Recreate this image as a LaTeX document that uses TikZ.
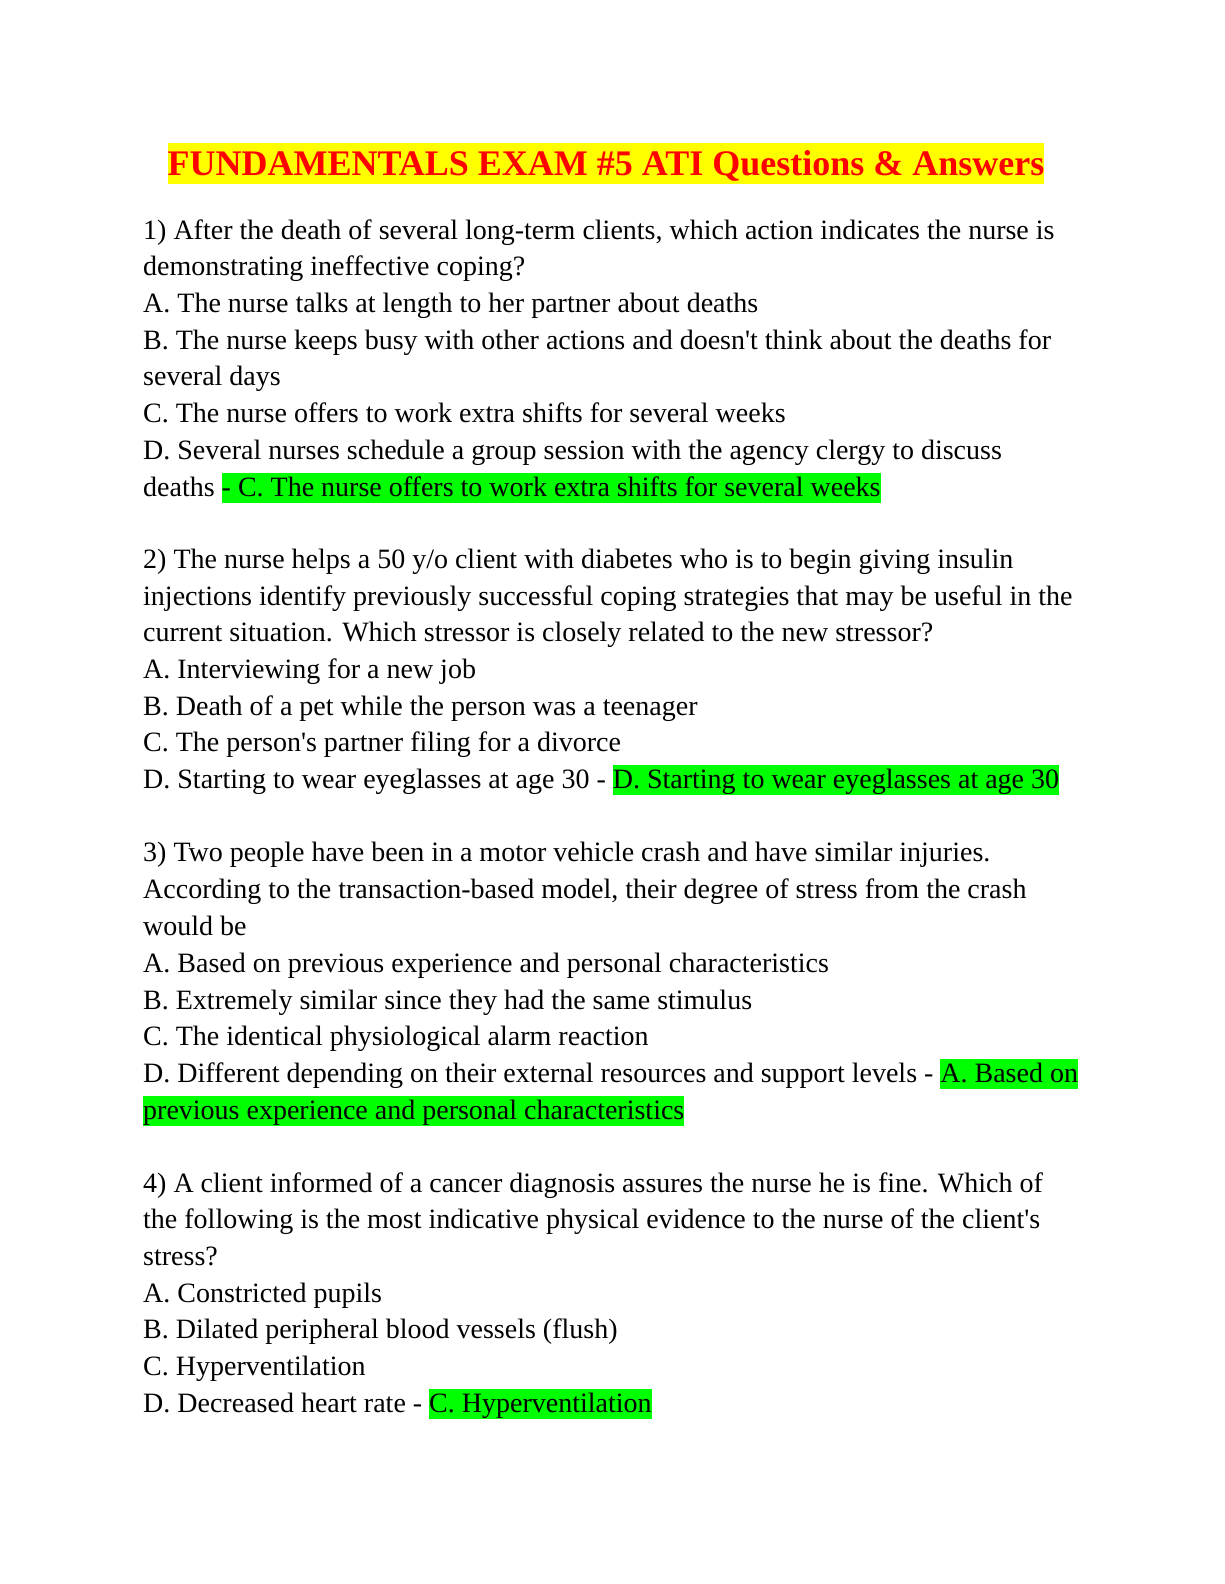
\documentclass[tikz,border=0pt]{standalone}
\usepackage{fontspec}
\setmainfont{Liberation Serif}
\definecolor{hlg}{RGB}{0,255,0}
\definecolor{hly}{RGB}{255,255,0}
\definecolor{ttl}{RGB}{255,0,0}
\newcommand{\hlg}[1]{{\setlength\fboxsep{0pt}\colorbox{hlg}{\rule[-7pt]{0pt}{30pt}#1}}}
\begin{document}
\begin{tikzpicture}[x=1pt,y=-1pt,
  ln/.style={anchor=base west,inner sep=0pt,font=\fontsize{28}{31}\selectfont}]
\useasboundingbox (0,0) rectangle (1224,1584);
\node[anchor=base,inner sep=0pt,font=\fontsize{36}{40}\selectfont\bfseries,text=ttl] (title) at (606,175)
  {{\setlength\fboxsep{0pt}\colorbox{hly}{\rule[-9pt]{0pt}{41pt}FUNDAMENTALS EXAM \#5 ATI Questions \& Answers}}};
\foreach \y/\t [count=\i] in {
239/{1) After the death of several long-term clients, which action indicates the nurse is},
275/{demonstrating ineffective coping?},
312/{A. The nurse talks at length to her partner about deaths},
349/{B. The nurse keeps busy with other actions and doesn\textquotesingle t think about the deaths for},
385/{several days},
422/{C. The nurse offers to work extra shifts for several weeks},
459/{D. Several nurses schedule a group session with the agency clergy to discuss},
496/{deaths \hlg{- C. The nurse offers to work extra shifts for several weeks}},
568/{2) The nurse helps a 50 y/o client with diabetes who is to begin giving insulin},
605/{injections identify previously successful coping strategies that may be useful in the},
641/{current situation. Which stressor is closely related to the new stressor?},
678/{A. Interviewing for a new job},
715/{B. Death of a pet while the person was a teenager},
751/{C. The person\textquotesingle s partner filing for a divorce},
788/{D. Starting to wear eyeglasses at age 30 - \hlg{D. Starting to wear eyeglasses at age 30}},
861/{3) Two people have been in a motor vehicle crash and have similar injuries.},
898/{According to the transaction-based model, their degree of stress from the crash},
935/{would be},
972/{A. Based on previous experience and personal characteristics},
1009/{B. Extremely similar since they had the same stimulus},
1045/{C. The identical physiological alarm reaction},
1082/{D. Different depending on their external resources and support levels - \hlg{A. Based on}},
1119/{\hlg{previous experience and personal characteristics}},
1192/{4) A client informed of a cancer diagnosis assures the nurse he is fine. Which of},
1228/{the following is the most indicative physical evidence to the nurse of the client\textquotesingle s},
1265/{stress?},
1302/{A. Constricted pupils},
1338/{B. Dilated peripheral blood vessels (flush)},
1375/{C. Hyperventilation},
1412/{D. Decreased heart rate - \hlg{C. Hyperventilation}}}
  \node[ln] (l\i) at (143,\y) {\t};
\end{tikzpicture}
\end{document}
